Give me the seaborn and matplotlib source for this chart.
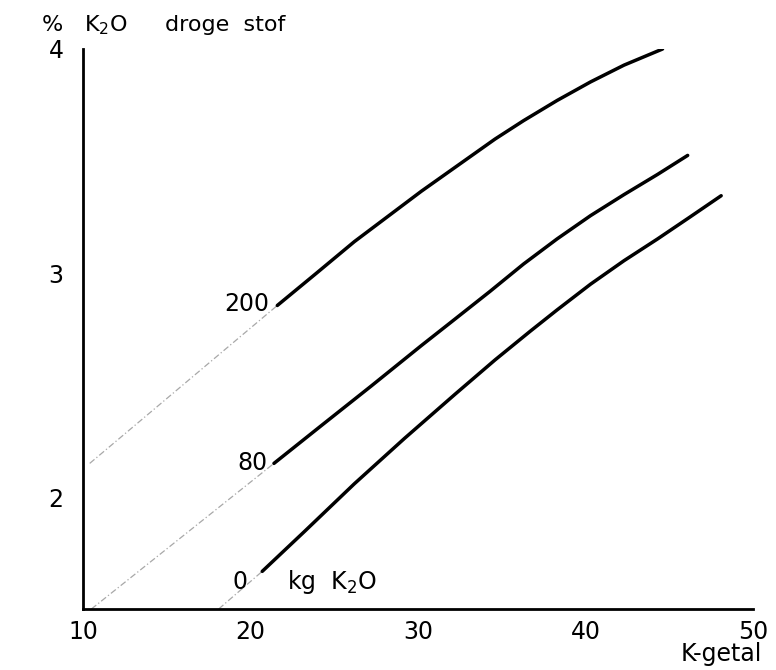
import matplotlib
matplotlib.use("Agg")
import matplotlib.pyplot as plt
import seaborn as sns
import pandas as pd

# ---- data ----
k200_x = [21.6, 23.95, 26.2, 30.2, 34.6, 36.3, 38.3, 40.3, 42.3, 44.6]
k200_y = [2.855, 3.0, 3.14, 3.365, 3.598, 3.68, 3.77, 3.853, 3.928, 4.0]
k80_x = [21.4, 24.25, 27.2, 30.2, 32.0, 34.3, 36.3, 38.3, 40.3, 42.3, 44.3, 46.1]
k80_y = [2.15, 2.32, 2.495, 2.676, 2.782, 2.918, 3.04, 3.152, 3.256, 3.35, 3.44, 3.525]
k0_x = [20.7, 23.25, 26.2, 29.2, 32.2, 34.6, 36.7, 38.3, 40.3, 42.3, 44.3, 46.2, 48.1]
k0_y = [1.668, 1.848, 2.059, 2.262, 2.458, 2.612, 2.74, 2.835, 2.95, 3.055, 3.152, 3.248, 3.345]

# extrapolated (dashed) parts
ext200_x = [10.4, 21.6]
ext200_y = [2.15, 2.855]
ext80_x = [10.5, 21.4]
ext80_y = [1.50, 2.15]
ext0_x = [18.1, 20.7]
ext0_y = [1.50, 1.668]

x_ticks = [10, 20, 30, 40, 50]
y_ticks = [2, 3, 4]

sns.set_style("white")
plt.rcParams['font.family'] = ['DejaVu Sans']
plt.rcParams['mathtext.fontset'] = 'dejavusans'
plt.rcParams['text.color'] = 'black'

solid = pd.concat([
    pd.DataFrame({"x": k200_x, "y": k200_y, "dose": "200"}),
    pd.DataFrame({"x": k80_x, "y": k80_y, "dose": "80"}),
    pd.DataFrame({"x": k0_x, "y": k0_y, "dose": "0"}),
])
dashed = pd.concat([
    pd.DataFrame({"x": ext200_x, "y": ext200_y, "dose": "200"}),
    pd.DataFrame({"x": ext80_x, "y": ext80_y, "dose": "80"}),
    pd.DataFrame({"x": ext0_x, "y": ext0_y, "dose": "0"}),
])

fig = plt.figure(figsize=(7.76, 6.70), dpi=100)
ax = fig.add_axes([83/776, 1 - 609/670, (753-83)/776, (609-49)/670])

sns.lineplot(data=dashed, x="x", y="y", units="dose", estimator=None,
             color="#a8a8a8", lw=0.9, linestyle=(0, (5, 2, 1, 2)), ax=ax,
             sort=False)
sns.lineplot(data=solid, x="x", y="y", units="dose", estimator=None,
             color="black", lw=2.5, ax=ax, sort=False)

ax.set_xlim(10, 50)
ax.set_ylim(1.5, 4)
ax.set_xticks(x_ticks)
ax.set_yticks(y_ticks)
ax.set_xticklabels([str(v) for v in x_ticks])
ax.set_yticklabels([str(v) for v in y_ticks])
ax.set_xlabel("")
ax.set_ylabel("")
for s in ["top", "right"]:
    ax.spines[s].set_visible(False)
for s in ["left", "bottom"]:
    ax.spines[s].set_linewidth(2.0)
    ax.spines[s].set_color("black")
ax.tick_params(axis="both", direction="in", width=2.0, color="black",
               labelsize=17, labelcolor="black")
ax.tick_params(axis="y", length=16, pad=14)
ax.tick_params(axis="x", length=12, pad=8)
ax.patch.set_alpha(0)

fs = 17
ax.text(21.1, 2.86, "200", ha="right", va="center", fontsize=fs, color="black")
ax.text(21.0, 2.15, "80", ha="right", va="center", fontsize=fs, color="black")
ax.text(19.8, 1.62, "0", ha="right", va="center", fontsize=fs, color="black")
ax.text(22.2, 1.62, r"kg  K$_2$O", ha="left", va="center", fontsize=fs,
        color="black")

tfs = 16
ty = 1 - 25/670
fig.text(42/776, ty, "%", ha="left", va="center", fontsize=tfs)
fig.text(84/776, ty, r"K$_2$O", ha="left", va="center", fontsize=tfs)
fig.text(165/776, ty, "droge  stof", ha="left", va="center", fontsize=tfs)
fig.text(762/776, 1 - 654/670, "K-getal", ha="right", va="center", fontsize=fs)

fig.savefig("out.png", dpi=100)
